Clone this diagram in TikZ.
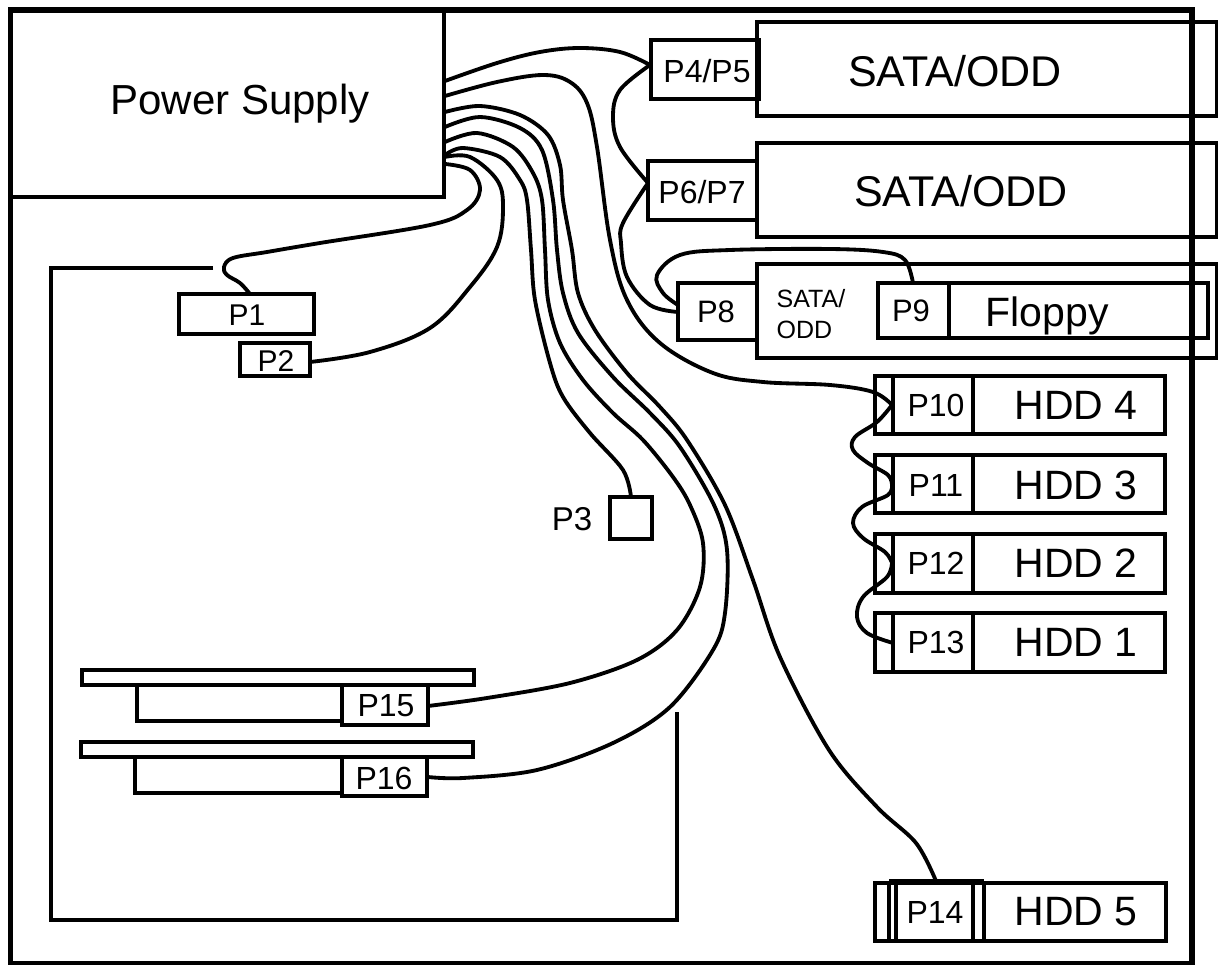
\documentclass[tikz,border=0pt]{standalone}
\usepackage{fontspec}
\setmainfont{Liberation Sans}
\newcommand{\fpx}[1]{\fontsize{\dimexpr #1pt*6/10\relax}{\dimexpr #1pt*7/10\relax}\selectfont}
\newcommand{\bx}[6][]{%
  \pgfmathsetmacro{\bw}{(#4-#2)*0.6}\pgfmathsetmacro{\bh}{(#5-#3)*0.6}%
  \pgfmathsetmacro{\bcx}{(#4+#2)/2}\pgfmathsetmacro{\bcy}{(#5+#3)/2}%
  \node[part,minimum width=\bw pt,minimum height=\bh pt,#1] (#6) at (\bcx,\bcy) {};}
\tikzset{
  x=0.6pt,y=-0.6pt,
  part/.style={draw=black,line width=1.9pt,inner sep=0pt,outer sep=0pt,rectangle},
  cable/.style={draw=black,line width=2.3pt,line cap=round,line join=round},
  edge line/.style={draw=black,line width=2.2pt},
  thin part/.style={draw=black,line width=1.9pt},
  thick part/.style={draw=black,line width=2.8pt},
  lab/.style={inner sep=0pt,outer sep=0pt,text=black,align=left,font=\fpx{#1}},
  lab/.default=32,
}
\begin{document}
\begin{tikzpicture}
\useasboundingbox (0,0) rectangle (1218,965);
% drive bays and connectors
\bx{10}{10}{444}{197}{psu}
\bx{757}{22}{1217}{116}{odda}
\bx{757}{143}{1217}{237}{oddb}
\bx{757}{264}{1217}{358}{oddc}
\bx{651}{40}{759}{99}{pa}
\bx{648}{161}{757}{220}{pb}
\bx{678}{283}{757}{340}{pe}
\bx{878}{283}{1208}{338}{fd}
\bx{878}{283}{949}{338}{pn}
\bx{875}{376}{1165}{434}{hd}
\bx{875}{455}{1165}{513}{hc}
\bx{875}{534}{1165}{593}{hb}
\bx{875}{613}{1165}{672}{ha}
\bx{875}{883}{1166}{941}{he}
\bx{893}{376}{973}{434}{pk}
\bx{893}{455}{973}{513}{pl}
\bx{893}{534}{973}{593}{pm}
\bx{893}{613}{973}{672}{po}
\bx{896}{881}{973}{941}{pq}
\bx{179}{294}{314}{334}{pA}
\bx{240}{343}{310}{376}{pB}
\bx{610}{497}{652}{539}{pC}
\bx{82}{670}{474}{685}{cardA}
\bx{137}{685}{342}{721}{slotA}
\bx{342}{685}{428}{725}{pO}
\bx{81}{742}{473}{757}{cardB}
\bx{135}{757}{342}{793}{slotB}
\bx{342}{757}{427}{796}{pP}
% thick and double dividers
\draw[thick part] (pa.north east) -- (pa.south east);
\draw[thick part] (pn.north east) -- (pn.south east);
\draw[thick part] (pO.north west) -- (pO.south west);
\draw[thick part] (pP.north west) -- (pP.south west);
\draw[thick part] (cardA.south west) -- (cardA.south east);
\draw[thick part] (cardB.south west) -- (cardB.south east);
\coordinate (hl) at (889,881);
\coordinate (hr) at (984,881);
\draw[thin part] (hl) -- (hr);
\draw[thin part] (hl) -- (hl |- he.south);
\draw[thin part] (hr) -- (hr |- he.south);
% motherboard edge
\coordinate (m1) at (213,268);\coordinate (m2) at (51,268);
\coordinate (m3) at (51,920);\coordinate (m4) at (677,920);\coordinate (m5) at (677,712);
\draw[edge line] (m1) -- (m2) -- (m3) -- (m4) -- (m5);
% cable ends
\coordinate (s1) at (445,81);\coordinate (s2) at (445,96);\coordinate (s3) at (445,112);
\coordinate (s4) at (445,127);\coordinate (s5) at (445,142);\coordinate (s6) at (445,155);
\coordinate (s7) at (445,157);\coordinate (s8) at (445,164);
\coordinate (ea) at (650,65);\coordinate (eb) at (648,183);\coordinate (ec) at (678,312);
\coordinate (ec2) at (678,305);\coordinate (ed) at (913,283);
\coordinate (ek) at (892,405);\coordinate (el) at (892,485);\coordinate (em) at (892,563);\coordinate (eo) at (893,643);
\coordinate (eq) at (936,881);\coordinate (eC) at (631,497);\coordinate (eO) at (428,706);\coordinate (eP) at (428,777);
\coordinate (eB) at (310,362);\coordinate (eA) at (250,294);
% cables
\draw[cable] plot[smooth,tension=.6] coordinates {(s1) (497,63) (540,52) (580,48) (620,52) (ea)};
\draw[cable] plot[smooth,tension=.6] coordinates {(ea) (620,90) (613,117) (620,147) (eb)};
\draw[cable] plot[smooth,tension=.6] coordinates {(eb) (623,223) (621,243) (627,277) (650,305) (ec)};
\draw[cable] plot[smooth,tension=.6] coordinates {(ed) (905,260) (883,252) (830,249) (730,250) (680,255) (657,275) (663,293) (ec2)};
\draw[cable] plot[smooth,tension=.6] coordinates {(s2) (497,82) (543,75) (570,82) (587,103) (597,147) (610,240) (627,300) (660,343) (713,373) (763,382) (830,385) (873,392) (ek)};
\draw[cable] plot[smooth,tension=.6] coordinates {(ek) (877,422) (855,437) (853,450) (868,463) (888,475) (el)};
\draw[cable] plot[smooth,tension=.6] coordinates {(el) (888,495) (862,507) (853,523) (863,538) (885,552) (em)};
\draw[cable] plot[smooth,tension=.6] coordinates {(em) (887,577) (863,597) (857,617) (867,633) (eo)};
\draw[cable] plot[smooth,tension=.55] coordinates {(s3) (480,106) (520,115) (548,135) (560,165) (563,200) (572,250) (578,293) (595,330) (627,373) (660,407) (687,440) (725,505) (753,580) (780,657) (829,750) (877,807) (916,843) (eq)};
\draw[cable] plot[smooth,tension=.55] coordinates {(s4) (480,117) (520,128) (542,150) (553,200) (557,250) (563,293) (578,333) (613,377) (650,413) (680,447) (714,505) (727,550) (725,613) (713,650) (670,707) (613,743) (537,770) (463,778) (eP)};
\draw[cable] plot[smooth,tension=.55] coordinates {(s5) (477,133) (513,147) (533,173) (542,200) (545,250) (548,300) (560,343) (583,380) (613,413) (643,440) (673,477) (690,505) (703,543) (700,587) (677,630) (637,660) (570,683) (487,698) (eO)};
\draw[cable] plot[smooth,tension=.55] coordinates {(s6) (463,148) (500,157) (520,180) (527,200) (531,250) (535,300) (550,363) (563,397) (590,433) (623,470) (eC)};
\draw[cable] plot[smooth,tension=.6] coordinates {(s7) (470,157) (497,180) (503,207) (497,247) (470,287) (430,328) (370,352) (eB)};
\draw[cable] plot[smooth,tension=.6] coordinates {(s8) (470,170) (480,190) (467,210) (430,225) (320,243) (267,252) (233,258) (224,267) (227,275) (240,283) (eA)};
% frame
\coordinate (f1) at (10.5,10);\coordinate (f2) at (1192,10);\coordinate (f3) at (1192,964);\coordinate (f4) at (10.5,964);
\draw[line width=3.3pt] (f1) -- (f2) -- (f3) -- (f4) -- cycle;
% labels
\node[lab=42] at (240,104) {Power Supply};
\node[lab=32] at (707,71) {P4/P5};
\node[lab=32] at (702,192) {P6/P7};
\node[lab=31] at (716,312) {P8};
\node[lab=31] at (911,311) {P9};
\node[lab=43] at (955,71) {SATA/ODD};
\node[lab=43] at (961,191) {SATA/ODD};
\node[lab=25] at (811,314) {SATA/\\[1pt]ODD};
\node[lab=41] at (1047,316) {Floppy};
\node[lab=32] at (936,405) {P10};
\node[lab=32] at (936,485) {P11};
\node[lab=32] at (936,563) {P12};
\node[lab=32] at (936,642) {P13};
\node[lab=32] at (935,912) {P14};
\node[lab=41] at (1076,405) {HDD 4};
\node[lab=41] at (1076,485) {HDD 3};
\node[lab=41] at (1076,563) {HDD 2};
\node[lab=41] at (1076,642) {HDD 1};
\node[lab=41] at (1076,912) {HDD 5};
\node[lab=30] at (247,315) {P1};
\node[lab=30] at (276,361) {P2};
\node[lab=33] at (572,519) {P3};
\node[lab=32] at (386,706) {P15};
\node[lab=32] at (384,778) {P16};
\end{tikzpicture}
\end{document}
